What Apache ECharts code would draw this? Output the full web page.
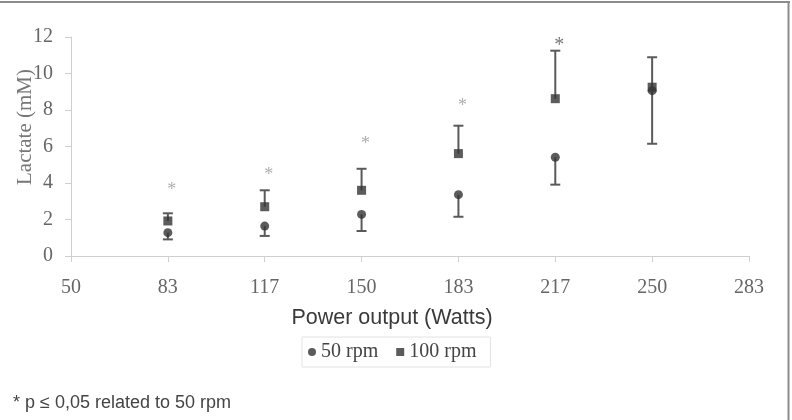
<!DOCTYPE html>
<html>
<head>
<meta charset="utf-8">
<script src="https://cdn.jsdelivr.net/npm/echarts@6/dist/echarts.min.js"></script>
<style>html,body{margin:0;padding:0;background:#fff;}#c{width:792px;height:420px;}</style>
</head>
<body>
<div id="c"></div>
<script>
// x-axis tick labels (Power output, Watts)
var categories = ['50', '83', '117', '150', '183', '217', '250', '283'];
// categories that carry data
var pointCats = ['83', '117', '150', '183', '217', '250'];
// 50 rpm mean lactate and lower end of its error bar
var rpm50 = [1.28, 1.64, 2.28, 3.36, 5.41, 9.06];
var rpm50Low = [0.91, 1.10, 1.37, 2.15, 3.91, 6.15];
// 100 rpm mean lactate and upper end of its error bar
var rpm100 = [1.92, 2.70, 3.60, 5.61, 8.62, 9.25];
var rpm100High = [2.34, 3.60, 4.78, 7.14, 11.25, 10.89];
// significance asterisks (category, height in mM)
var sigCats = ['83', '117', '150', '183', '217'];
var sigY = [3.80, 4.62, 6.36, 8.45, 11.74];
var yTicks = [0, 2, 4, 6, 8, 10, 12];

var serif = '"Liberation Serif", "Times New Roman", serif';
var sans = '"Liberation Sans", Arial, sans-serif';

var s50 = pointCats.map(function (c, i) { return [c, rpm50[i]]; });
var s100 = pointCats.map(function (c, i) { return [c, rpm100[i]]; });
var err = [];
pointCats.forEach(function (c, i) {
  err.push([c, rpm50[i], rpm50Low[i]]);
  err.push([c, rpm100[i], rpm100High[i]]);
});
var sig = sigCats.map(function (c, i) {
  var last = i === sigCats.length - 1;
  return { value: [c, sigY[i]], label: { color: last ? '#555' : '#999', fontSize: last ? 20 : 18 } };
});

var chart = echarts.init(document.getElementById('c'));
chart.setOption({
  animation: false,
  backgroundColor: '#fff',
  grid: { left: 71, right: 43, top: 37, bottom: 164, containLabel: false, outerBoundsMode: 'none' },
  xAxis: {
    type: 'category',
    data: categories,
    boundaryGap: false,
    axisLine: { lineStyle: { color: '#cfcfcf', width: 1 } },
    axisTick: { show: true, alignWithLabel: true, length: 6, lineStyle: { color: '#cfcfcf' } },
    axisLabel: { fontFamily: serif, fontSize: 20, color: '#666', margin: 22 },
    splitLine: { show: false }
  },
  yAxis: {
    type: 'value',
    min: 0, max: 12, interval: 2,
    axisLine: { show: true, lineStyle: { color: '#cfcfcf', width: 1 } },
    axisTick: { show: true, length: 6, lineStyle: { color: '#cfcfcf' } },
    axisLabel: {
      fontFamily: serif, fontSize: 20, color: '#666', margin: 18,
      formatter: function (v) { return yTicks.indexOf(v) >= 0 ? String(v) : ''; }
    },
    splitLine: { show: false }
  },
  legend: {
    data: [
      { name: '50 rpm', icon: 'circle' },
      { name: '100 rpm', icon: 'rect' }
    ],
    left: 302, top: 337,
    itemWidth: 8, itemHeight: 8, itemGap: 18,
    padding: [5, 14, 5, 6],
    borderColor: '#e2e2e2', borderWidth: 1,
    backgroundColor: '#fff',
    textStyle: { fontFamily: serif, fontSize: 20, color: '#444' }
  },
  series: [
    {
      type: 'custom',
      name: 'err',
      z: 1,
      data: err,
      renderItem: function (params, api) {
        var x = api.value(0);
        var p0 = api.coord([x, api.value(1)]);
        var p1 = api.coord([x, api.value(2)]);
        var hw = 5;
        var st = { stroke: '#5a5a5a', lineWidth: 2 };
        return {
          type: 'group',
          children: [
            { type: 'line', shape: { x1: p0[0], y1: p0[1], x2: p1[0], y2: p1[1] }, style: st },
            { type: 'line', shape: { x1: p1[0] - hw, y1: p1[1], x2: p1[0] + hw, y2: p1[1] }, style: st }
          ]
        };
      },
      silent: true
    },
    {
      type: 'scatter', name: '50 rpm', data: s50, z: 3,
      symbol: 'circle', symbolSize: 9,
      itemStyle: { color: '#333' }
    },
    {
      type: 'scatter', name: '100 rpm', data: s100, z: 3,
      symbol: 'rect', symbolSize: 9,
      itemStyle: { color: '#333' }
    },
    {
      type: 'scatter', name: 'sig', data: sig, z: 4,
      symbolSize: 0, silent: true,
      label: {
        show: true, position: 'inside', formatter: '*',
        fontFamily: serif, fontSize: 18,
        offset: [4, 4]
      },
      itemStyle: { color: 'transparent' }
    }
  ],
  graphic: [
    { type: 'rect', shape: { x: 0, y: 1, width: 790, height: 2 }, style: { fill: '#8c8c8c' }, silent: true },
    { type: 'rect', shape: { x: 787.5, y: 1, width: 2, height: 419 }, style: { fill: '#8c8c8c' }, silent: true },
    { type: 'text', x: 25, y: 127, rotation: Math.PI / 2,
      style: { text: 'Lactate (mM)', font: '21px ' + serif, fill: '#777', textAlign: 'center', textVerticalAlign: 'middle' }, silent: true },
    { type: 'text', x: 392, y: 318,
      style: { text: 'Power output (Watts)', font: '21.5px ' + sans, fill: '#3a3a3a', textAlign: 'center', textVerticalAlign: 'middle' }, silent: true },
    { type: 'text', left: 13, top: 394, style: { text: '* p \u2264 0,05 related to 50 rpm', font: '18px ' + sans, fill: '#444' }, silent: true }
  ]
});
</script>
</body>
</html>
